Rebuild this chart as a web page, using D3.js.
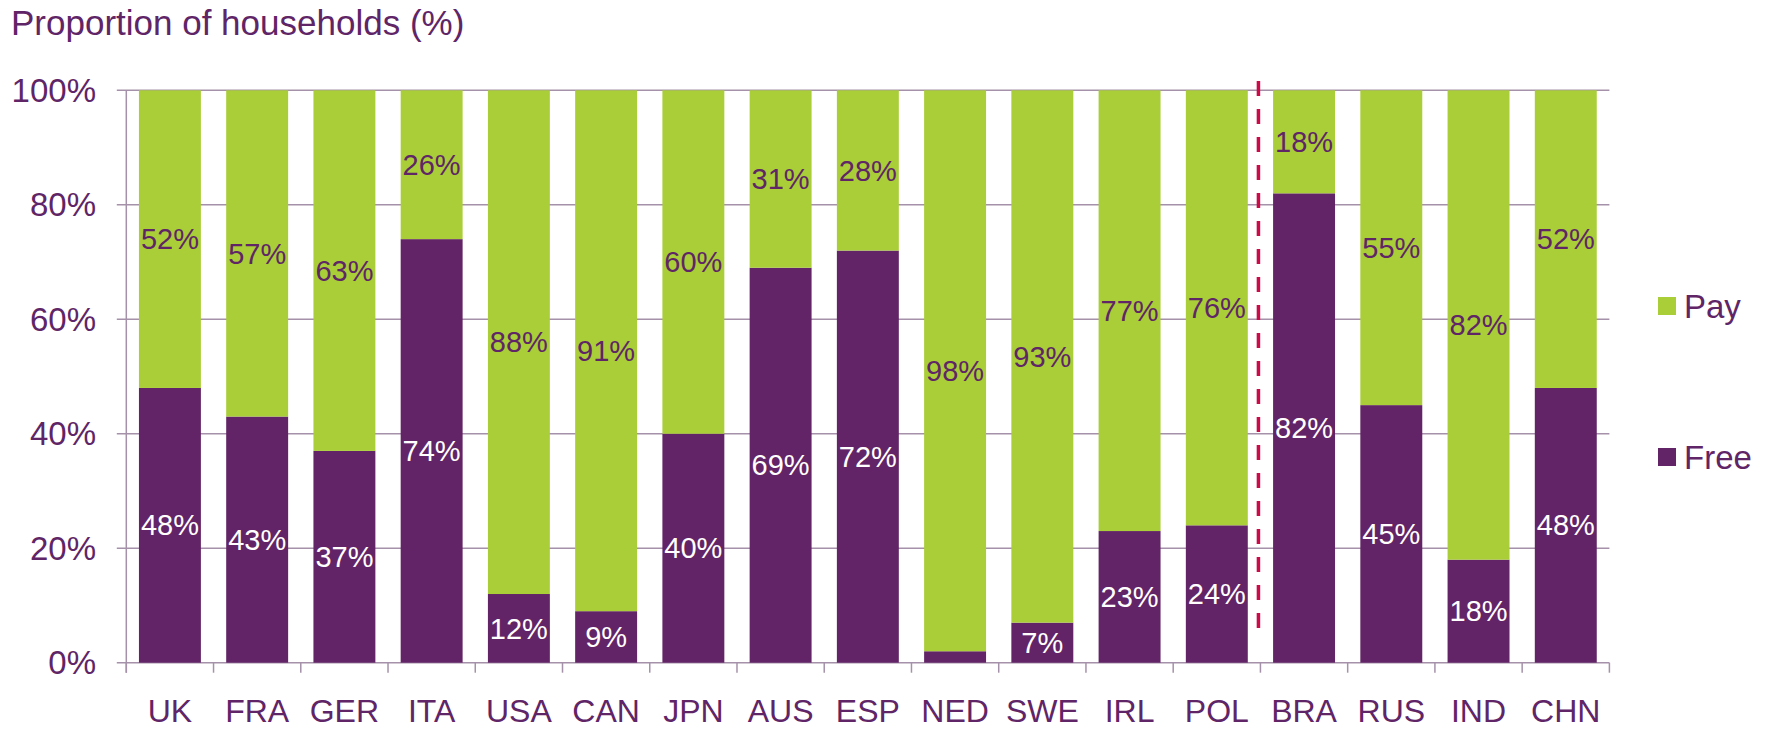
<!DOCTYPE html>
<html>
<head>
<meta charset="utf-8">
<script src="https://cdn.jsdelivr.net/npm/d3@7"></script>
<style>
  html, body { margin: 0; padding: 0; background: #fff; }
  svg { display: block; font-family: "Liberation Sans", Arial, sans-serif; }
</style>
</head>
<body>
<svg id="chart" width="1771" height="729"></svg>
<script>
// Households paying vs. not paying, by country
const countries = ["UK", "FRA", "GER", "ITA", "USA", "CAN", "JPN", "AUS", "ESP", "NED", "SWE", "IRL", "POL", "BRA", "RUS", "IND", "CHN"];
const freeValues = [48, 43, 37, 74, 12, 9, 40, 69, 72, 2, 7, 23, 24, 82, 45, 18, 48];
const payValues  = [52, 57, 63, 26, 88, 91, 60, 31, 28, 98, 93, 77, 76, 18, 55, 82, 52];
const yTicks = [0, 20, 40, 60, 80, 100];
const seriesNames = ["Pay", "Free"];
const splitBefore = "BRA"; // emerging markets start here

const colors = { Free: "#622466", Pay: "#a9ce38" };
const textColor = "#5f2567";
const gridColor = "#a591aa";

const svg = d3.select("#chart");
const margin = { left: 126.3, right: 1609.4, top: 90.3, bottom: 662.7 };

const x = d3.scaleBand()
  .domain(countries)
  .range([margin.left, margin.right])
  .paddingInner(0.29)
  .paddingOuter(0.145);

const y = d3.scaleLinear().domain([0, 100]).range([margin.bottom, margin.top]);

// Title
svg.append("text")
  .attr("x", 11).attr("y", 35)
  .attr("fill", textColor)
  .attr("font-size", 35)
  .text("Proportion of households (%)");

// Gridlines
svg.append("g").selectAll("line")
  .data(yTicks)
  .join("line")
  .attr("x1", margin.left - 9.5).attr("x2", margin.right)
  .attr("y1", d => y(d)).attr("y2", d => y(d))
  .attr("stroke", gridColor).attr("stroke-width", 1.5);

// Y tick labels
svg.append("g").selectAll("text")
  .data(yTicks)
  .join("text")
  .attr("x", 96).attr("y", d => y(d))
  .attr("dy", "0.35em")
  .attr("text-anchor", "end")
  .attr("fill", textColor)
  .attr("font-size", 33)
  .text(d => d + "%");

// Stacked data
const rows = countries.map((c, i) => ({ country: c, Free: freeValues[i], Pay: payValues[i] }));
const stacked = d3.stack().keys(["Free", "Pay"])(rows);

const layers = svg.append("g").selectAll("g")
  .data(stacked)
  .join("g")
  .attr("fill", d => colors[d.key]);

layers.selectAll("rect")
  .data(d => d)
  .join("rect")
  .attr("x", d => x(d.data.country))
  .attr("width", x.bandwidth())
  .attr("y", d => y(d[1]))
  .attr("height", d => y(d[0]) - y(d[1]));

// Segment value labels
stacked.forEach(layer => {
  svg.append("g").selectAll("text")
    .data(layer.filter(d => d.data[layer.key] >= 5))
    .join("text")
    .attr("x", d => x(d.data.country) + x.bandwidth() / 2)
    .attr("y", d => (y(d[0]) + y(d[1])) / 2)
    .attr("dy", "0.35em")
    .attr("text-anchor", "middle")
    .attr("font-size", 29)
    .attr("fill", layer.key === "Free" ? "#ffffff" : textColor)
    .text(d => d.data[layer.key] + "%");
});

// Axes lines
svg.append("line")
  .attr("x1", margin.left).attr("x2", margin.left)
  .attr("y1", margin.top).attr("y2", margin.bottom + 10)
  .attr("stroke", gridColor).attr("stroke-width", 1.5);

const step = x.step();
const boundaries = d3.range(countries.length + 1).map(i => margin.left + i * step);
svg.append("g").selectAll("line")
  .data(boundaries)
  .join("line")
  .attr("x1", d => d).attr("x2", d => d)
  .attr("y1", margin.bottom).attr("y2", margin.bottom + 10)
  .attr("stroke", gridColor).attr("stroke-width", 1.5);

// Category labels
svg.append("g").selectAll("text")
  .data(countries)
  .join("text")
  .attr("x", d => x(d) + x.bandwidth() / 2)
  .attr("y", 722)
  .attr("text-anchor", "middle")
  .attr("fill", textColor)
  .attr("font-size", 32)
  .text(d => d);

// Divider between developed and emerging markets
const splitX = x(splitBefore) - (step - x.bandwidth()) / 2 - 2;
svg.append("line")
  .attr("x1", splitX).attr("x2", splitX)
  .attr("y1", 81).attr("y2", 628)
  .attr("stroke", "#cc0a48")
  .attr("stroke-width", 3.5)
  .attr("stroke-dasharray", "15 13");

// Legend
const legendY = { Pay: 306, Free: 457 };
const legend = svg.append("g").selectAll("g")
  .data(seriesNames)
  .join("g")
  .attr("transform", d => `translate(1658, ${legendY[d]})`);

legend.append("rect")
  .attr("x", 0).attr("y", -9)
  .attr("width", 18).attr("height", 18)
  .attr("fill", d => colors[d]);

legend.append("text")
  .attr("x", 26).attr("y", 11.5)
  .attr("fill", textColor)
  .attr("font-size", 33)
  .text(d => d);
</script>
</body>
</html>
